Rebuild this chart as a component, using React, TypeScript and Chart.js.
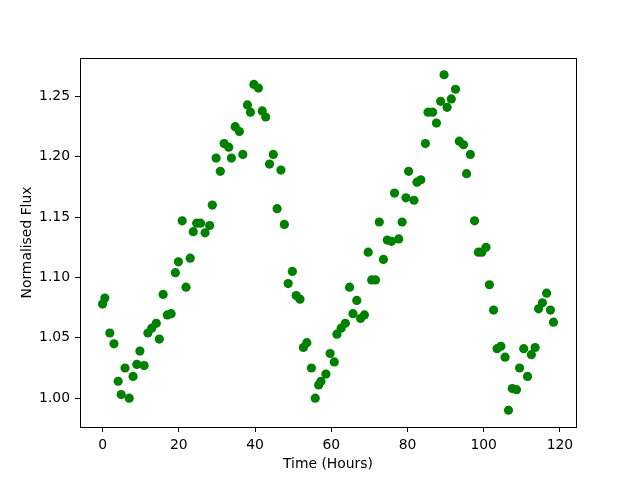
import React, { useEffect, useRef } from 'react';
import { Chart, registerables } from 'chart.js';

Chart.register(...registerables);

const timeHours = [
  0.0, 0.6, 1.9, 3.0, 4.1, 4.9, 5.9, 7.0, 8.0, 9.0, 9.8, 10.9, 11.9, 12.9, 14.1, 14.9,
  15.9, 17.0, 18.0, 19.1, 19.9, 20.9, 21.9, 23.0, 23.8, 24.7, 25.7, 26.9, 28.1, 28.8,
  29.8, 30.9, 31.9, 33.1, 33.8, 34.8, 35.9, 36.8, 38.0, 38.8, 39.7, 40.9, 41.9, 42.8,
  43.8, 44.8, 45.8, 46.8, 47.7, 48.7, 49.8, 50.8, 51.8, 52.7, 53.6, 54.8, 55.8, 56.7,
  57.3, 58.6, 59.7, 60.8, 61.5, 62.6, 63.7, 64.8, 65.7, 66.7, 67.7, 68.7, 69.7, 70.6,
  71.6, 72.6, 73.7, 74.7, 75.8, 76.6, 77.7, 78.6, 79.6, 80.3, 81.7, 82.5, 83.5, 84.7,
  85.4, 86.6, 87.6, 88.7, 89.6, 90.4, 91.5, 92.6, 93.6, 94.7, 95.5, 96.5, 97.6, 98.6,
  99.5, 100.6, 101.5, 102.6, 103.5, 104.5, 105.6, 106.5, 107.5, 108.6, 109.4, 110.5,
  111.5, 112.5, 113.5, 114.4, 115.4, 116.5, 117.5, 118.3,
];

const normalisedFlux = [
  1.078, 1.083, 1.054, 1.045, 1.014, 1.003, 1.025, 1.0, 1.018, 1.028, 1.039, 1.027, 1.054,
  1.058, 1.062, 1.049, 1.086, 1.069, 1.07, 1.104, 1.113, 1.147, 1.092, 1.116, 1.138, 1.145,
  1.145, 1.137, 1.143, 1.16, 1.199, 1.188, 1.211, 1.208, 1.199, 1.225, 1.221, 1.202, 1.243,
  1.237, 1.26, 1.257, 1.238, 1.233, 1.194, 1.202, 1.157, 1.189, 1.144, 1.095, 1.105, 1.085,
  1.082, 1.042, 1.046, 1.025, 1.0, 1.011, 1.014, 1.02, 1.037, 1.03, 1.053, 1.058, 1.062,
  1.092, 1.07, 1.081, 1.066, 1.069, 1.121, 1.098, 1.098, 1.146, 1.115, 1.131, 1.13, 1.17,
  1.132, 1.146, 1.166, 1.188, 1.164, 1.179, 1.181, 1.211, 1.237, 1.237, 1.228, 1.246,
  1.268, 1.241, 1.248, 1.256, 1.213, 1.21, 1.186, 1.202, 1.147, 1.121, 1.121, 1.125,
  1.094, 1.073, 1.041, 1.043, 1.034, 0.99, 1.008, 1.007, 1.025, 1.041, 1.018, 1.036,
  1.042, 1.074, 1.079, 1.087, 1.073, 1.063,
];

const xTickValues = [0, 20, 40, 60, 80, 100, 120];
const yTickValues = [1.0, 1.05, 1.1, 1.15, 1.2, 1.25];

const xTitle = 'Time (Hours)';
const yTitle = 'Normalised Flux';

const FONT = 'DejaVu Sans';

const framePlugin = {
  id: 'frame',
  afterDraw(chart: any) {
    const { ctx, chartArea: a } = chart;
    ctx.save();
    ctx.strokeStyle = '#000';
    ctx.lineWidth = 1;
    ctx.strokeRect(Math.round(a.left) + 0.5, Math.round(a.top) + 0.5, Math.round(a.right - a.left), Math.round(a.bottom - a.top));
    ctx.restore();
  },
};

export default function App() {
  const canvasRef = useRef<HTMLCanvasElement | null>(null);

  useEffect(() => {
    const canvas = canvasRef.current;
    if (!canvas) return;
    const points = timeHours.map((t, i) => ({ x: t, y: normalisedFlux[i] }));

    const xs = timeHours;
    const ys = normalisedFlux;
    const xMin = Math.min(...xs), xMax = Math.max(...xs);
    const yMin = Math.min(...ys), yMax = Math.max(...ys);
    const xm = (xMax - xMin) * 0.05;
    const ym = (yMax - yMin) * 0.05;

    const chart = new Chart(canvas, {
      type: 'scatter',
      data: {
        datasets: [
          {
            data: points,
            backgroundColor: '#008000',
            borderColor: '#008000',
            borderWidth: 0,
            pointRadius: 4.6,
            pointHoverRadius: 4.6,
          },
        ],
      },
      plugins: [framePlugin],
      options: {
        animation: false,
        responsive: false,
        maintainAspectRatio: false,
        layout: { padding: { left: 0, right: 64, top: 58, bottom: 0 } },
        plugins: {
          legend: { display: false },
          tooltip: { enabled: false },
        },
        scales: {
          x: {
            type: 'linear',
            min: xMin - xm,
            max: xMax + xm,
            afterBuildTicks: (scale: any) => {
              scale.ticks = xTickValues.map((v) => ({ value: v }));
            },
            afterFit: (scale: any) => {
              scale.height = 53;
            },
            grid: {
              drawOnChartArea: false,
              drawTicks: true,
              tickLength: 5,
              tickColor: '#000',
              color: '#000',
            },
            border: { display: false },
            ticks: {
              color: '#000',
              padding: 5,
              maxRotation: 0,
              autoSkip: false,
              font: { family: FONT, size: 13.9 },
              callback: (v: any) => String(v),
            },
            title: {
              display: true,
              text: xTitle,
              color: '#000',
              font: { family: FONT, size: 13.9 },
              padding: { top: 0, bottom: 7 },
            },
          },
          y: {
            type: 'linear',
            min: yMin - ym,
            max: yMax + ym,
            afterBuildTicks: (scale: any) => {
              scale.ticks = yTickValues.map((v) => ({ value: v }));
            },
            afterFit: (scale: any) => {
              scale.width = 80;
            },
            grid: {
              drawOnChartArea: false,
              drawTicks: true,
              tickLength: 5,
              tickColor: '#000',
              color: '#000',
            },
            border: { display: false },
            ticks: {
              color: '#000',
              padding: 5,
              autoSkip: false,
              font: { family: FONT, size: 13.9 },
              callback: (v: any) => Number(v).toFixed(2),
            },
            title: {
              display: true,
              text: yTitle,
              color: '#000',
              font: { family: FONT, size: 13.9 },
              padding: { top: 19, bottom: 0 },
            },
          },
        },
      },
    } as any);

    return () => chart.destroy();
  }, []);

  return (
    <div style={{ position: 'fixed', left: 0, top: 0, width: 640, height: 480, background: '#fff' }}>
      <canvas ref={canvasRef} width={640} height={480} style={{ display: 'block', width: 640, height: 480 }} />
    </div>
  );
}
